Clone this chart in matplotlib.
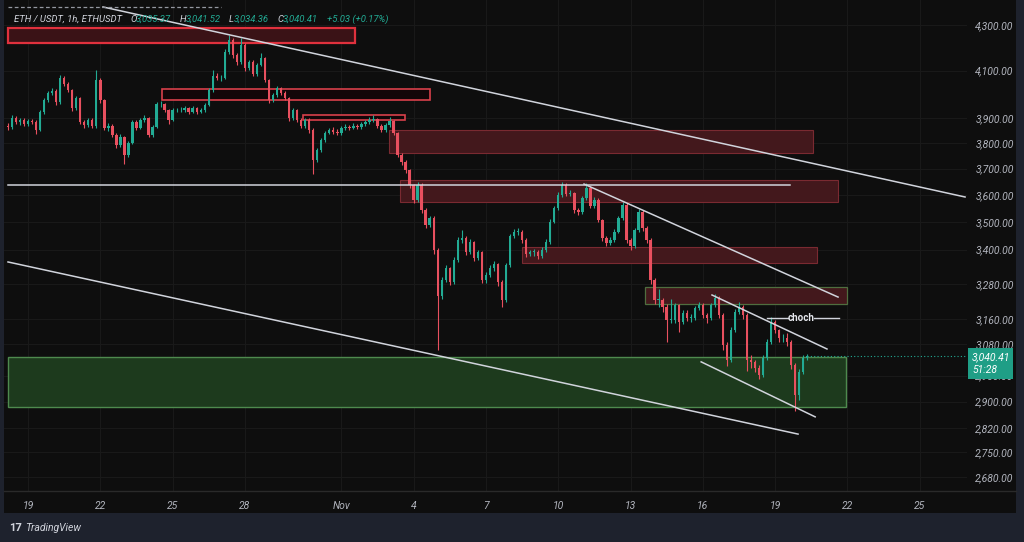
import numpy as np
import matplotlib.pyplot as plt
from matplotlib.patches import Rectangle
from matplotlib.ticker import NullLocator, NullFormatter

plt.rcParams['font.family'] = ['Roboto', 'DejaVu Sans']

W, H = 1024, 542

# 4h candles starting Oct 18 04:00 ; x unit = day of October (Nov n -> 31 + n)
t0 = 18 + 4 / 24.
first_open = 3870.0
closes = [3865, 3902, 3885, 3893, 3877, 3889, 3885, 3853, 3926, 3975,
          4004, 4013, 3967, 4068, 4043, 4017, 3942, 3984, 3885, 3873,
          3893, 3869, 4060, 3975, 3861, 3869, 3833, 3793, 3825, 3753,
          3801, 3885, 3861, 3893, 3901, 3833, 3865, 3958, 3958, 3934,
          3893, 3934, 3934, 3934, 3942, 3926, 3942, 3926, 3934, 3955,
          4017, 4077, 4068, 4068, 4180, 4233, 4167, 4137, 4211, 4111,
          4137, 4085, 4124, 4154, 4060, 3975, 3996, 4026, 4005, 3984,
          3901, 3934, 3893, 3869, 3893, 3853, 3734, 3773, 3813, 3841,
          3853, 3845, 3841, 3861, 3865, 3861, 3869, 3865, 3877, 3885,
          3893, 3897, 3869, 3853, 3873, 3889, 3841, 3753, 3726, 3695,
          3637, 3581, 3637, 3543, 3488, 3514, 3398, 3240, 3293, 3335,
          3286, 3363, 3434, 3441, 3391, 3427, 3370, 3391, 3293, 3310,
          3335, 3349, 3286, 3225, 3345, 3448, 3463, 3463, 3434, 3384,
          3391, 3391, 3377, 3398, 3427, 3500, 3551, 3599, 3637, 3603,
          3607, 3543, 3536, 3588, 3626, 3558, 3581, 3507, 3441, 3423,
          3434, 3463, 3514, 3562, 3434, 3412, 3470, 3536, 3478, 3434,
          3293, 3225, 3225, 3201, 3158, 3158, 3208, 3151, 3181, 3165,
          3165, 3198, 3208, 3175, 3165, 3208, 3232, 3175, 3077, 3029,
          3125, 3185, 3201, 3175, 3029, 3023, 3004, 2982, 3035, 3086,
          3151, 3125, 3099, 3099, 3086, 3013, 2920, 2991, 3035, 3040.41]
highs = [3880, 3912, 3910, 3901, 3900, 3897, 3898, 3892, 3934, 3986,
         4015, 4024, 4020, 4080, 4075, 4050, 4022, 3992, 3990, 3895,
         3902, 3900, 4102, 4068, 3980, 3880, 3875, 3840, 3835, 3830,
         3810, 3894, 3893, 3902, 3915, 3906, 3874, 3968, 3970, 3962,
         3940, 3942, 3944, 3946, 3950, 3948, 3952, 3948, 3944, 3964,
         4026, 4102, 4090, 4082, 4192, 4256, 4240, 4175, 4240, 4218,
         4146, 4144, 4133, 4175, 4160, 4066, 4005, 4034, 4032, 4012,
         3990, 3942, 3940, 3900, 3902, 3900, 3860, 3782, 3822, 3850,
         3862, 3865, 3856, 3870, 3876, 3874, 3880, 3878, 3886, 3895,
         3905, 3912, 3902, 3875, 3882, 3905, 3893, 3846, 3760, 3732,
         3700, 3642, 3648, 3645, 3550, 3522, 3520, 3405, 3302, 3345,
         3340, 3372, 3445, 3470, 3448, 3436, 3432, 3400, 3396, 3320,
         3344, 3358, 3354, 3292, 3352, 3456, 3475, 3478, 3470, 3440,
         3400, 3402, 3398, 3408, 3436, 3510, 3560, 3610, 3650, 3645,
         3618, 3612, 3552, 3596, 3645, 3632, 3592, 3588, 3512, 3448,
         3445, 3472, 3522, 3575, 3568, 3440, 3478, 3548, 3542, 3484,
         3440, 3300, 3262, 3232, 3210, 3230, 3216, 3212, 3190, 3190,
         3178, 3205, 3220, 3214, 3182, 3216, 3245, 3238, 3180, 3085,
         3135, 3195, 3220, 3208, 3180, 3045, 3030, 3012, 3045, 3095,
         3168, 3158, 3130, 3112, 3115, 3092, 3020, 3000, 3045, 3048]
lows = [3852, 3858, 3876, 3874, 3868, 3870, 3875, 3838, 3848, 3918,
        3968, 3995, 3956, 3960, 4034, 4008, 3932, 3935, 3875, 3862,
        3866, 3860, 3862, 3965, 3852, 3850, 3825, 3782, 3786, 3717,
        3745, 3795, 3852, 3855, 3886, 3824, 3826, 3860, 3948, 3926,
        3876, 3888, 3924, 3925, 3928, 3918, 3920, 3918, 3920, 3928,
        3950, 4010, 4058, 4056, 4062, 4172, 4155, 4125, 4130, 4100,
        4102, 4075, 4078, 4118, 4050, 3965, 3968, 3990, 3996, 3975,
        3890, 3895, 3884, 3860, 3862, 3842, 3680, 3725, 3766, 3806,
        3835, 3836, 3832, 3834, 3852, 3852, 3855, 3856, 3858, 3870,
        3878, 3886, 3860, 3845, 3846, 3866, 3832, 3744, 3716, 3684,
        3625, 3570, 3575, 3532, 3478, 3480, 3385, 3061, 3228, 3286,
        3275, 3280, 3355, 3425, 3382, 3384, 3360, 3362, 3282, 3284,
        3302, 3326, 3272, 3202, 3218, 3340, 3440, 3452, 3425, 3374,
        3376, 3378, 3366, 3370, 3392, 3420, 3494, 3545, 3592, 3595,
        3596, 3534, 3525, 3530, 3580, 3550, 3550, 3498, 3432, 3412,
        3415, 3428, 3458, 3506, 3424, 3400, 3405, 3462, 3468, 3424,
        3280, 3212, 3200, 3185, 3085, 3148, 3150, 3118, 3145, 3155,
        3152, 3158, 3190, 3166, 3150, 3158, 3200, 3165, 3060, 3010,
        3022, 3118, 3178, 3160, 2995, 3005, 2990, 2968, 2975, 3028,
        3080, 3115, 3088, 3085, 3075, 3000, 2872, 2905, 2985, 3030]

# supply zones (day from, day to, low, high)
red_x0 = [18.17, 24.56, 30.41, 33.98, 34.44, 39.50, 44.60]
red_x1 = [32.57, 35.68, 34.64, 51.57, 52.61, 51.74, 52.98]
red_lo = [4220, 3977, 3893, 3761, 3573, 3352, 3211]
red_hi = [4287, 4020, 3914, 3853, 3656, 3409, 3269]
# demand zone
green_zone = (18.17, 52.94, 2883, 3038)

# trendlines: (day0, price0, day1, price1)
trend_lines = [(22.11, 4382, 57.88, 3592),
               (18.17, 3637, 50.62, 3637),
               (18.17, 3356, 50.95, 2803),
               (42.07, 3641, 52.61, 3235),
               (47.38, 3242, 52.15, 3064),
               (46.93, 3023, 51.66, 2854)]
choch_price = 3165

yticks = [2680, 2750, 2820, 2900, 2980, 3080, 3160, 3280, 3400, 3500,
          3600, 3700, 3800, 3900, 4100, 4300]
xticks = [19, 22, 25, 28, 32, 35, 38, 41, 44, 47, 50, 53, 56]
xlabels = ['19', '22', '25', '28', 'Nov', '4', '7', '10', '13', '16', '19', '22', '25']
last_price = 3040.41

UP, DOWN = '#22ab94', '#e8505f'
TXT = '#b2b5be'


def fx(x):
    return x / W


def fy(y):
    return 1 - y / H


fig = plt.figure(figsize=(W / 100, H / 100), dpi=100)
fig.patch.set_facecolor('#1e222d')
fig.add_artist(Rectangle((fx(4), fy(513)), fx(1016) - fx(4), fy(0) - fy(513),
                         transform=fig.transFigure, facecolor='#0e0e0e',
                         edgecolor='none', zorder=0))
fig.add_artist(plt.Line2D([fx(4), fx(1016)], [fy(491), fy(491)],
                          transform=fig.transFigure, color='#2a2a2a', lw=1))

ax = fig.add_axes([fx(4), fy(491), fx(967) - fx(4), fy(0) - fy(491)])
ax.set_facecolor('#0e0e0e')
for s in ax.spines.values():
    s.set_visible(False)
ax.set_yscale('log')
ax.set_ylim(2641, 4414)
ax.set_xlim(18.004, 57.96)
ax.yaxis.set_minor_locator(NullLocator())
ax.yaxis.set_minor_formatter(NullFormatter())
ax.set_yticks(yticks)
ax.set_yticklabels(['{:,.2f}'.format(v) for v in yticks])
ax.yaxis.tick_right()
ax.set_xticks(xticks)
ax.set_xticklabels(xlabels)
ax.tick_params(axis='y', length=0, pad=6, labelsize=7.5, labelcolor=TXT)
ax.tick_params(axis='x', length=0, pad=7, labelsize=7.5, labelcolor=TXT)
for lab in ax.get_xticklabels() + ax.get_yticklabels():
    lab.set_fontstyle('italic')
ax.grid(True, color='#1a1a1a', lw=0.7)
ax.set_axisbelow(True)

# zones
gx0, gx1, glo, ghi = green_zone
ax.add_patch(Rectangle((gx0, glo), gx1 - gx0, ghi - glo, facecolor='#1d3a1d',
                       edgecolor='#4e8a4e', lw=1, zorder=1))
zone_face = ['#3a1216', '#120608', '#120608', '#43181c', '#43181c', '#43181c', '#43181c']
zone_edge = ['#e0313d', '#d8404b', '#d8404b', '#7a2a31', '#7a2a31', '#7a2a31', '#4f6e3f']
zone_lw = [1.6, 1.2, 1.2, 0.8, 0.8, 0.8, 0.9]
for k in range(len(red_x0)):
    ax.add_patch(Rectangle((red_x0[k], red_lo[k]), red_x1[k] - red_x0[k],
                           red_hi[k] - red_lo[k], facecolor=zone_face[k],
                           edgecolor=zone_edge[k], lw=zone_lw[k], zorder=1))

# candles
c = np.array(closes, dtype=float)
o = np.r_[first_open, c[:-1]]
hi = np.array(highs, dtype=float)
lo = np.array(lows, dtype=float)
t = t0 + np.arange(len(c)) / 6.
col = np.where(c >= o, UP, DOWN)
ax.vlines(t, lo, hi, colors=col, lw=0.8, zorder=3)
ax.bar(t, np.maximum(np.abs(c - o), 2.0), bottom=np.minimum(o, c), width=0.1,
       color=col, zorder=4)

# trend lines
for x0, p0, x1, p1 in trend_lines:
    ax.plot([x0, x1], [p0, p1], color='#d1d4dc', lw=1.1, zorder=5)

# choch marker
ax.plot([49.66, 50.54], [choch_price, choch_price], color='#d1d4dc', lw=1, zorder=5)
ax.plot([51.61, 52.65], [choch_price, choch_price], color='#d1d4dc', lw=1, zorder=5)
ax.text(51.07, choch_price, 'choch', color='#e6e8ee', fontsize=7, fontweight='bold',
        ha='center', va='center', zorder=6)

# top dashed line
ax.plot([18.17, 27.0], [4382, 4382], color='#9598a1', lw=0.9, ls=(0, (3, 2)), zorder=5)

# last price line
ax.plot([t[-1], 57.96], [last_price, last_price], color=UP, lw=0.8,
        ls=(0, (1, 2)), zorder=5)

# header legend
hdr = [(14, 'ETH / USDT, 1h, ETHUSDT', '#d1d4dc'),
       (130, 'O', '#d1d4dc'), (136, '3,035.37', UP),
       (180, 'H', '#d1d4dc'), (186, '3,041.52', UP),
       (229, 'L', '#d1d4dc'), (234, '3,034.36', UP),
       (277, 'C', '#d1d4dc'), (283, '3,040.41', UP),
       (327, '+5.03 (+0.17%)', UP)]
for x, s, cc in hdr:
    fig.text(fx(x), fy(19), s, color=cc, fontsize=6.8, va='center', ha='left',
             style='italic')

# price tag (covers the 2,980.00 label as in the original)
fig.add_artist(Rectangle((fx(968), fy(379)), fx(1013) - fx(968), fy(348) - fy(379),
                         transform=fig.transFigure, facecolor='#1f9e86',
                         edgecolor='none', zorder=10))
fig.text(fx(972), fy(357), '{:,.2f}'.format(last_price), color='white',
         fontsize=7.5, va='center', ha='left', style='italic', zorder=11)
fig.text(fx(972), fy(370), '51:28', color='white', fontsize=7.5,
         va='center', ha='left', style='italic', zorder=11)

# TradingView logo
fig.text(fx(9), fy(528), '17', color='#d1d4dc', fontsize=8, fontweight='bold',
         va='center', ha='left')
fig.text(fx(25), fy(528), 'TradingView', color='#d1d4dc', fontsize=7.5,
         style='italic', va='center', ha='left')

fig.savefig('out.png', dpi=100, facecolor=fig.get_facecolor())
